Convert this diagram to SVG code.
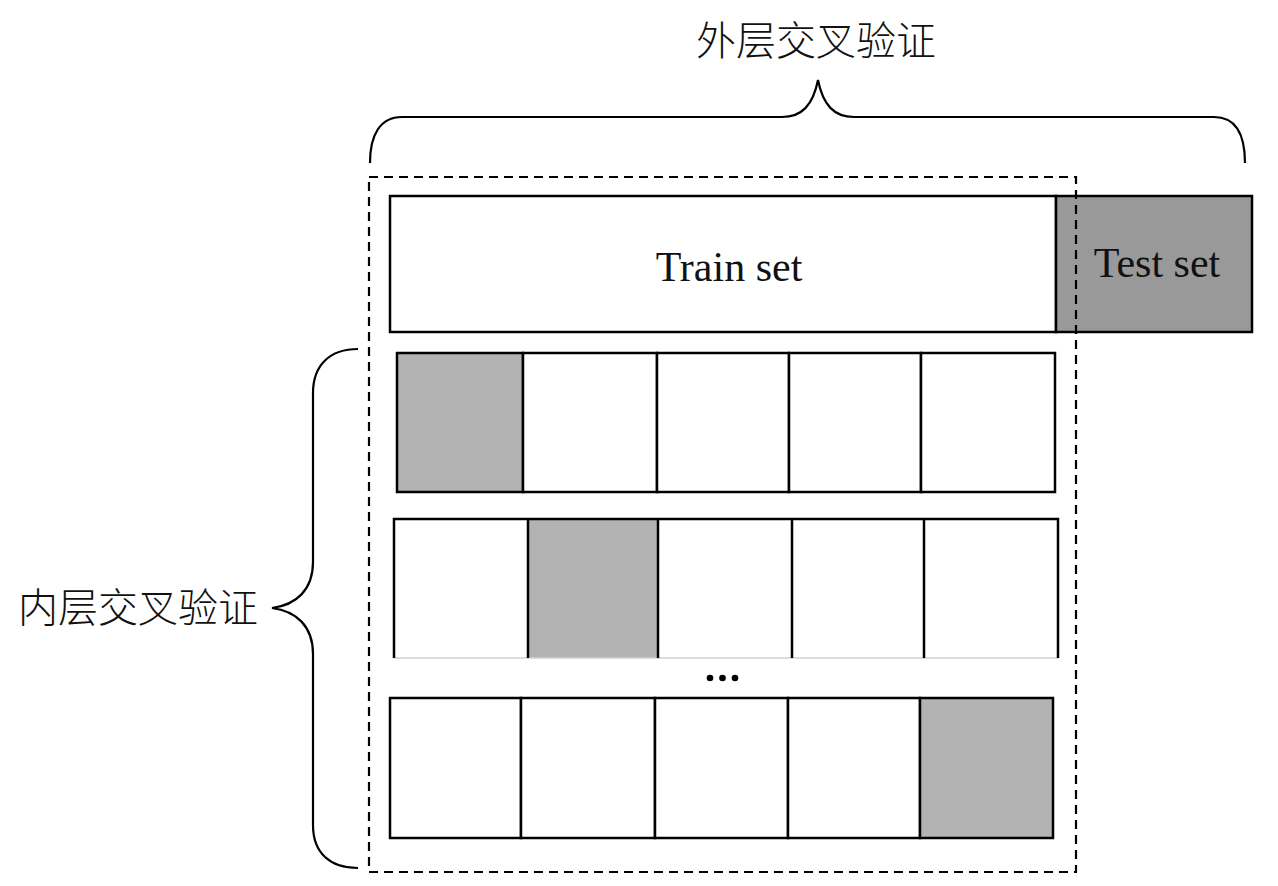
<svg xmlns="http://www.w3.org/2000/svg" width="1278" height="886" viewBox="0 0 1278 886">
<style>
.cell{stroke:#000;stroke-width:2.5;fill:#fff}
.g1{fill:#b3b3b3}
.g2{fill:#999}
.brace{fill:none;stroke:#000;stroke-width:2.2}
.dash{fill:none;stroke:#000;stroke-width:2.2;stroke-dasharray:9 6}
.en{font-family:"Liberation Serif","Times New Roman",serif;font-size:42px;fill:#111;text-anchor:middle}
.cn{font-family:"Noto Sans CJK SC","Noto Sans",sans-serif;font-size:40px;font-weight:300;fill:#111;text-anchor:middle}
</style>
<rect width="1278" height="886" fill="#fff"/>
<g id="outer-label">
<text class="cn" x="816" y="55">外层交叉验证</text>
<path class="brace" d="M370,163 C370,135 380,117 402,117 L782,117 C802,117 813,105 818,80 C823,105 834,117 854,117 L1214,117 C1236,117 1245,135 1245,163"/>
</g>
<g id="inner-label">
<text class="cn" x="138" y="622">内层交叉验证</text>
<path class="brace" d="M358,349 C330,349 313,365 313,393 L313,562 C313,590 296,605 272,608 C296,611 313,626 313,654 L313,825 C313,853 330,868 358,868"/>
</g>
<g id="outer-split">
<rect class="cell" x="390" y="196" width="666" height="136"/>
<text class="en" x="729" y="281">Train set</text>
<rect class="cell g2" x="1056" y="196" width="196" height="136"/>
<text class="en" x="1157" y="277">Test set</text>
</g>
<g id="fold-1">
<rect class="cell g1" x="397" y="353" width="126" height="139"/>
<rect class="cell" x="523" y="353" width="134" height="139"/>
<rect class="cell" x="657" y="353" width="132" height="139"/>
<rect class="cell" x="789" y="353" width="132" height="139"/>
<rect class="cell" x="921" y="353" width="134" height="139"/>
</g>
<g id="fold-2">
<rect x="394" y="519" width="664" height="139" fill="#fff"/>
<rect x="528" y="519" width="130" height="139" fill="#b3b3b3"/>
<path d="M394,658 L1058,658" stroke="#d0d0d0" stroke-width="1.5"/>
<path d="M394,658 L394,519 L1058,519 L1058,658 M528,519 L528,658 M658,519 L658,658 M792,519 L792,658 M924,519 L924,658" fill="none" stroke="#000" stroke-width="2.5"/>
</g>
<g id="ellipsis" fill="#000">
<circle cx="710" cy="678" r="3.3"/>
<circle cx="722.5" cy="678" r="3.3"/>
<circle cx="735" cy="678" r="3.3"/>
</g>
<g id="fold-k">
<rect class="cell" x="390" y="698" width="131" height="140"/>
<rect class="cell" x="521" y="698" width="134" height="140"/>
<rect class="cell" x="655" y="698" width="133" height="140"/>
<rect class="cell" x="788" y="698" width="132" height="140"/>
<rect class="cell g1" x="920" y="698" width="133" height="140"/>
</g>
<g id="connectors">
<rect class="dash" x="369" y="177" width="707" height="695"/>
</g>
</svg>
